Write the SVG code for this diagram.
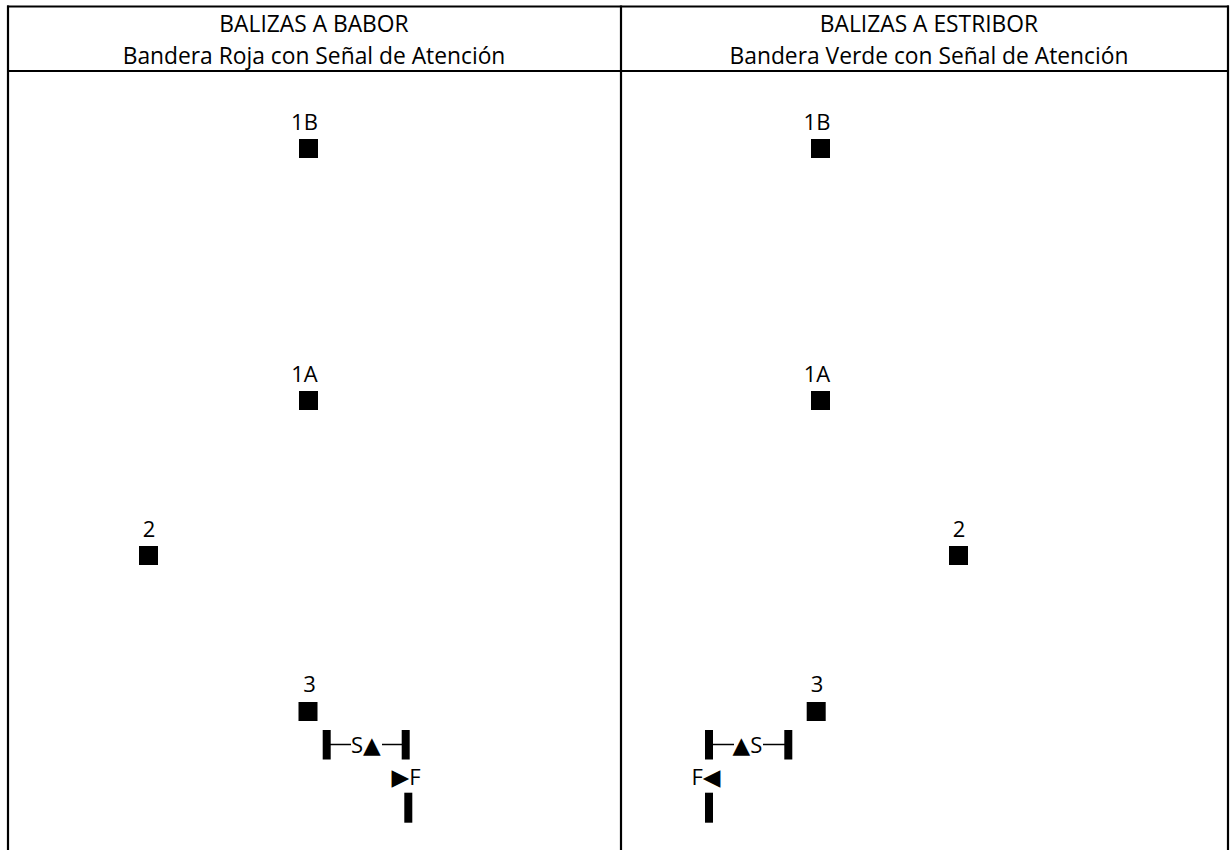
<svg xmlns="http://www.w3.org/2000/svg" width="1231" height="850" viewBox="0 0 1231 850">
<style>
.grid{stroke:#000;stroke-width:2.2;fill:none}
.hdr{font-family:"Open Sans","Noto Sans","Liberation Sans",sans-serif;font-size:22.8px;fill:#000;text-anchor:middle}
.lbl{font-family:"Open Sans","Noto Sans","Liberation Sans",sans-serif;font-size:22px;fill:#000}
.mid{text-anchor:middle}
.sym{font-family:"DejaVu Sans",sans-serif;font-size:23px}
.mark{fill:#000}
.bar{fill:#000}
.ln{stroke:#000;stroke-width:1.5}
</style>
<rect width="1231" height="850" fill="#fff"/>
<g id="table">
<line class="grid" x1="7" y1="6.5" x2="1229" y2="6.5"/>
<line class="grid" x1="7" y1="71" x2="1229" y2="71"/>
<line class="grid" x1="8" y1="5.5" x2="8" y2="850"/>
<line class="grid" x1="621" y1="5.5" x2="621" y2="850"/>
<line class="grid" x1="1228" y1="5.5" x2="1228" y2="850"/>
</g>
<g id="header-babor">
<text class="hdr" x="314" y="32">BALIZAS A BABOR</text>
<text class="hdr" x="314" y="64">Bandera Roja con Señal de Atención</text>
</g>
<g id="header-estribor">
<text class="hdr" x="929" y="32">BALIZAS A ESTRIBOR</text>
<text class="hdr" x="929" y="64">Bandera Verde con Señal de Atención</text>
</g>
<g id="babor-1B"><text class="lbl mid" x="304.5" y="130">1B</text><rect class="mark" x="299" y="139" width="19" height="19"/></g>
<g id="babor-1A"><text class="lbl mid" x="304.5" y="382">1A</text><rect class="mark" x="299" y="391" width="19" height="19"/></g>
<g id="babor-2"><text class="lbl mid" x="149" y="537">2</text><rect class="mark" x="139" y="546" width="19" height="19"/></g>
<g id="babor-3"><text class="lbl mid" x="309.5" y="692">3</text><rect class="mark" x="298.5" y="702" width="19" height="19"/></g>
<g id="babor-start">
<rect class="bar" x="322.7" y="730" width="8" height="29.5"/>
<rect class="bar" x="401.7" y="730" width="8" height="29.5"/>
<text class="lbl" x="351" y="752.5">S<tspan class="sym">▲</tspan></text>
</g>
<g id="babor-finish">
<text class="lbl" x="391.5" y="785"><tspan class="sym" font-size="21">▶</tspan>F</text>
<rect class="bar" x="404.3" y="792.7" width="8" height="30"/>
</g>
<g id="estribor-1B"><text class="lbl mid" x="817" y="130">1B</text><rect class="mark" x="811" y="139" width="19" height="19"/></g>
<g id="estribor-1A"><text class="lbl mid" x="817" y="382">1A</text><rect class="mark" x="811" y="391" width="19" height="19"/></g>
<g id="estribor-2"><text class="lbl mid" x="959" y="537">2</text><rect class="mark" x="949" y="546" width="19" height="19"/></g>
<g id="estribor-3"><text class="lbl mid" x="817" y="692">3</text><rect class="mark" x="806.7" y="702" width="19" height="19"/></g>
<g id="estribor-start">
<rect class="bar" x="705" y="730" width="8" height="29.5"/>
<rect class="bar" x="784.3" y="730" width="8" height="29.5"/>
<text class="lbl" x="732.5" y="752.5"><tspan class="sym">▲</tspan>S</text>
</g>
<g id="estribor-finish">
<text class="lbl" x="691.5" y="785">F<tspan class="sym" font-size="21">◀</tspan></text>
<rect class="bar" x="705" y="792.7" width="8" height="30"/>
</g>
<g id="connectors">
<line class="ln" x1="330" y1="744.5" x2="351" y2="744.5"/>
<line class="ln" x1="382" y1="744.5" x2="402" y2="744.5"/>
<line class="ln" x1="712" y1="744.5" x2="734" y2="744.5"/>
<line class="ln" x1="763" y1="744.5" x2="785" y2="744.5"/>
</g>
</svg>
